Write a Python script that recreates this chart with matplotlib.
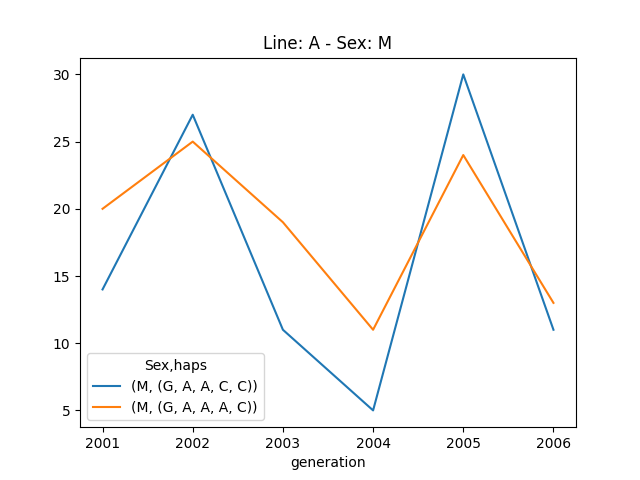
import matplotlib
matplotlib.use("Agg")
import matplotlib.pyplot as plt

# veriler
generation = [2001, 2002, 2003, 2004, 2005, 2006]
haps_gaacc = [14, 27, 11, 5, 30, 11]
haps_gaaac = [20, 25, 19, 11, 24, 13]
labels = ["(M, (G, A, A, C, C))", "(M, (G, A, A, A, C))"]

fig, ax = plt.subplots(figsize=(6.4, 4.8), dpi=100)
ax.plot(generation, haps_gaacc, label=labels[0])
ax.plot(generation, haps_gaaac, label=labels[1])
ax.set_xticks(generation)
ax.set_xlabel("generation")
ax.set_title("Line: A - Sex: M")
ax.legend(title="Sex,haps", loc="lower left")

plt.savefig("out.png", dpi=100)
